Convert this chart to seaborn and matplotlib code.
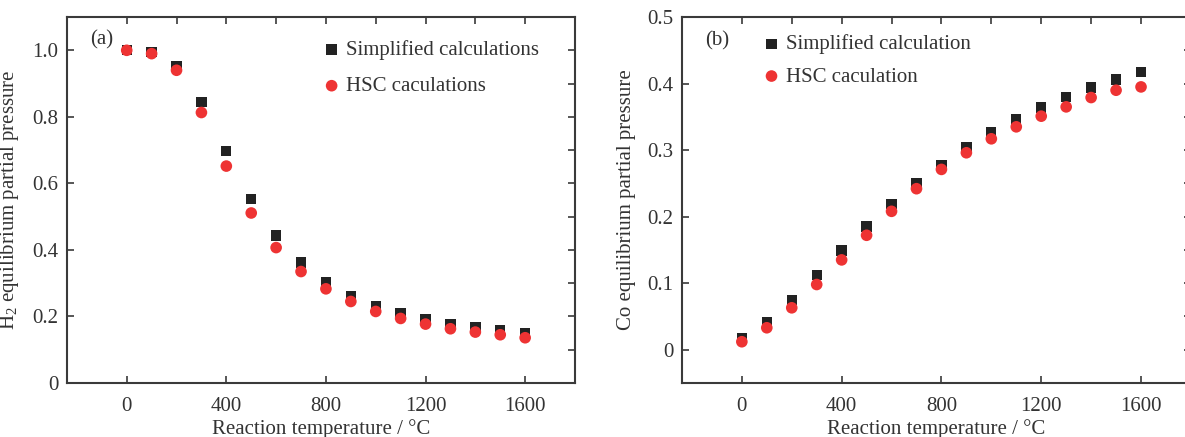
import numpy as np
import pandas as pd
import matplotlib
matplotlib.use("Agg")
import matplotlib.pyplot as plt
import seaborn as sns

temperature = [0, 100, 200, 300, 400, 500, 600, 700, 800, 900, 1000, 1100, 1200, 1300, 1400, 1500, 1600]
h2_simplified = [1.0, 0.995, 0.953, 0.845, 0.697, 0.553, 0.443, 0.362, 0.304, 0.262, 0.232, 0.209, 0.192, 0.178, 0.167, 0.158, 0.150]
h2_hsc = [1.0, 0.99, 0.94, 0.813, 0.652, 0.511, 0.407, 0.335, 0.283, 0.245, 0.215, 0.194, 0.177, 0.163, 0.153, 0.145, 0.136]
co_simplified = [0.017, 0.042, 0.075, 0.112, 0.149, 0.185, 0.219, 0.250, 0.278, 0.304, 0.327, 0.346, 0.364, 0.380, 0.394, 0.406, 0.417]
co_hsc = [0.012, 0.033, 0.063, 0.098, 0.135, 0.172, 0.208, 0.242, 0.271, 0.296, 0.317, 0.335, 0.351, 0.365, 0.379, 0.390, 0.395]

x_ticks = [0, 400, 800, 1200, 1600]
h2_yticks = [0, 0.2, 0.4, 0.6, 0.8, 1.0]
h2_yticklabels = ["0", "0.2", "0.4", "0.6", "0.8", "1.0"]
co_yticks = [0, 0.1, 0.2, 0.3, 0.4, 0.5]
co_yticklabels = ["0", "0.1", "0.2", "0.3", "0.4", "0.5"]

sns.set_style("ticks")
plt.rcParams["font.family"] = ["Liberation Serif", "DejaVu Serif"]
plt.rcParams["mathtext.fontset"] = "custom"
plt.rcParams["mathtext.rm"] = "Liberation Serif"
plt.rcParams["mathtext.it"] = "Liberation Serif:italic"

TXT = "#333333"
SPINE = "#3a3a3a"
BLACK = "#222222"
RED = "#EE3333"
FS = 15

fig = plt.figure(figsize=(11.85, 4.37), dpi=100)
ax1 = fig.add_axes([0.0565, 0.1236, 0.4287, 0.8374])
ax2 = fig.add_axes([0.5755, 0.1236, 0.4295, 0.8374])


def style_axes(ax, ylim, yticks, yticklabels, yminor):
    ax.set_xlim(-240, 1800)
    ax.set_ylim(*ylim)
    ax.set_xticks(x_ticks)
    ax.set_xticklabels([str(t) for t in x_ticks])
    ax.set_yticks(yticks)
    ax.set_yticklabels(yticklabels)
    for s in ax.spines.values():
        s.set_color(SPINE)
        s.set_linewidth(1.5)
    ax.tick_params(axis="both", which="major", direction="in", length=5, width=1.2,
                   color=SPINE, labelsize=FS, labelcolor=TXT, pad=6)
    ax.tick_params(axis="x", pad=10)
    sec_x = ax.secondary_xaxis("top")
    sec_x.set_xticks(list(range(0, 1801, 200)))
    sec_x.tick_params(direction="in", length=5, width=1.2, color=SPINE, labeltop=False)
    sec_x.spines["top"].set_visible(False)
    sec_y = ax.secondary_yaxis("right")
    sec_y.set_yticks(list(np.arange(ylim[0] if ylim[0] >= 0 else 0, ylim[1] + 1e-9, yminor)))
    sec_y.tick_params(direction="in", length=5, width=1.2, color=SPINE, labelright=False)
    sec_y.spines["right"].set_visible(False)
    ax.set_xlabel("Reaction temperature / °C", fontsize=FS, color=TXT, labelpad=2)


# Panel (a)
df_a = pd.DataFrame({"T": temperature, "simp": h2_simplified, "hsc": h2_hsc})
sns.scatterplot(data=df_a, x="T", y="simp", ax=ax1, marker="s", s=55, color=BLACK,
                edgecolor="none", label="Simplified calculations", zorder=3)
sns.scatterplot(data=df_a, x="T", y="hsc", ax=ax1, marker="o", s=70, color=RED,
                edgecolor="none", label="HSC caculations", zorder=4)
style_axes(ax1, (0, 1.1), h2_yticks, h2_yticklabels, 0.1)
ax1.set_ylabel("H$_2$ equilibrium partial pressure", fontsize=FS, color=TXT, labelpad=8)
ax1.text(0.045, 0.965, "(a)", transform=ax1.transAxes, fontsize=FS, color=TXT, va="top", ha="left")
leg1 = ax1.legend(loc="upper left", bbox_to_anchor=(0.48, 0.96), frameon=False, fontsize=FS,
                  handletextpad=0.1, labelspacing=0.8, borderaxespad=0, handlelength=1.2,
                  labelcolor=TXT)

# Panel (b)
df_b = pd.DataFrame({"T": temperature, "simp": co_simplified, "hsc": co_hsc})
sns.scatterplot(data=df_b, x="T", y="simp", ax=ax2, marker="s", s=55, color=BLACK,
                edgecolor="none", label="Simplified calculation", zorder=3)
sns.scatterplot(data=df_b, x="T", y="hsc", ax=ax2, marker="o", s=70, color=RED,
                edgecolor="none", label="HSC caculation", zorder=4)
style_axes(ax2, (-0.05, 0.5), co_yticks, co_yticklabels, 0.05)
ax2.set_ylabel("Co equilibrium partial pressure", fontsize=FS, color=TXT, labelpad=8)
ax2.text(0.045, 0.96, "(b)", transform=ax2.transAxes, fontsize=FS, color=TXT, va="top", ha="left")
leg2 = ax2.legend(loc="upper left", bbox_to_anchor=(0.135, 0.975), frameon=False, fontsize=FS,
                  handletextpad=0.1, labelspacing=0.6, borderaxespad=0, handlelength=1.2,
                  labelcolor=TXT)

fig.savefig("out.png", dpi=100)
